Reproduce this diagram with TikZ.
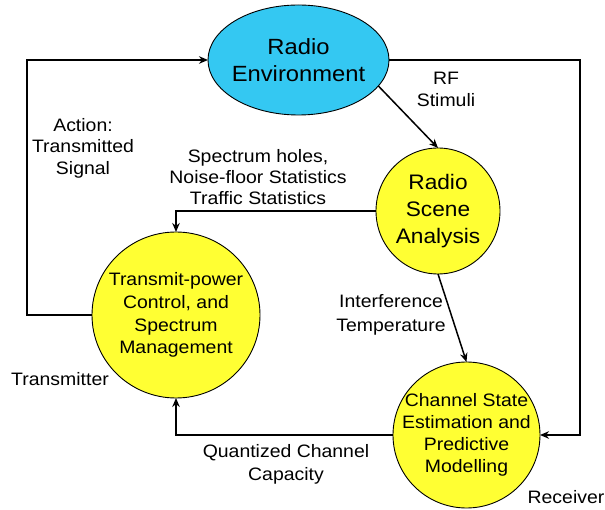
\documentclass[tikz,border=0pt]{standalone}
\usepackage{fontspec}
\setmainfont{Liberation Sans}[FakeStretch=1.08]
\usetikzlibrary{shapes.geometric,arrows.meta}
\definecolor{envblue}{RGB}{52,200,242}
\definecolor{nodeyellow}{RGB}{255,255,51}
\tikzset{
  bubble/.style={ellipse, draw=black, line width=0.9pt, inner sep=-40pt, outer sep=0pt, align=center, text=black},
  conn/.style={draw=black, line width=1.5pt, -{Stealth[length=9pt,width=7.5pt]}},
  lbl/.style={align=center, text=black, font=\fontsize{18}{21.5}\selectfont, inner sep=0pt},
}
\begin{document}
\begin{tikzpicture}[x=1pt,y=-1pt]
\useasboundingbox (0,0) rectangle (605,510);
% nodes
\node[bubble, fill=envblue, minimum width=181pt, minimum height=110pt,
      font=\fontsize{22}{27}\selectfont] (re) at (298.5,60) {Radio\\Environment};
\node[bubble, fill=nodeyellow, minimum width=124pt, minimum height=126pt,
      font=\fontsize{21}{27}\selectfont] (rs) at (438,211) {Radio\\Scene\\Analysis};
\node[bubble, fill=nodeyellow, minimum width=168pt, minimum height=166pt,
      font=\fontsize{18}{22.7}\selectfont] (tx) at (176,315) {Transmit-power\\Control, and\\Spectrum\\Management};
\node[bubble, fill=nodeyellow, minimum width=147pt, minimum height=146pt,
      font=\fontsize{18}{22}\selectfont] (cs) at (466.5,435) {Channel State\\Estimation and\\Predictive\\Modelling};
% connectors
\draw[conn] (tx.west) -- ++(-65,0) |- (re.west);
\draw[conn] (re.east) -- ++(191,0) |- (cs.east);
\draw[conn] (re.-18) -- (rs.north);
\draw[conn] (rs.west) -| (tx.north);
\draw[conn] (rs.south) -- (cs.north);
\draw[conn] (cs.west) -| (tx.south);
% labels
\node[lbl] (lact) at (83,148) {Action:\\Transmitted\\Signal};
\node[lbl, font=\fontsize{18}{22}\selectfont] (lrf) at (446,89) {RF\\Stimuli};
\node[lbl, font=\fontsize{18}{21}\selectfont] (lsp) at (258,177) {Spectrum holes,\\Noise-floor Statistics\\Traffic Statistics};
\node[lbl, font=\fontsize{18}{24}\selectfont] (lit) at (391,315) {Interference\\Temperature};
\node[lbl] (ltx) at (60,379) {Transmitter};
\node[lbl, font=\fontsize{18}{23}\selectfont] (lqc) at (286,464) {Quantized Channel\\Capacity};
\node[lbl] (lrx) at (566,497) {Receiver};
\end{tikzpicture}
\end{document}
